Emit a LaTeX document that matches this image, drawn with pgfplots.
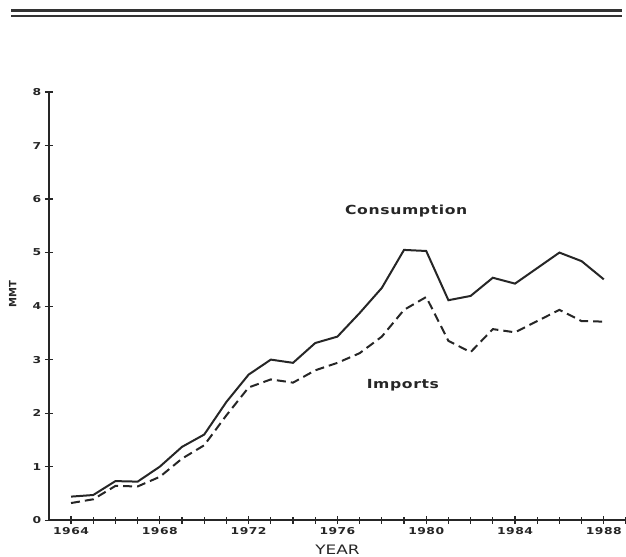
\documentclass[border=0pt]{standalone}
\usepackage{fontspec}
\setmainfont{DejaVu Sans}
\newfontfamily\widefont[FakeStretch=1.3, LetterSpace=5]{DejaVu Sans}
\newfontfamily\labelfont[FakeStretch=1.25, LetterSpace=5]{DejaVu Sans}
\newfontfamily\yearfont[FakeStretch=1.3]{DejaVu Sans}
\usepackage{pgfplots}
\pgfplotsset{compat=1.18}

\pgfplotstableread{
year  cons  imp
1964  0.44  0.32
1965  0.47  0.39
1966  0.73  0.64
1967  0.72  0.63
1968  1.00  0.81
1969  1.37  1.15
1970  1.60  1.40
1971  2.21  1.96
1972  2.72  2.48
1973  3.00  2.63
1974  2.94  2.57
1975  3.31  2.80
1976  3.43  2.94
1977  3.87  3.12
1978  4.34  3.43
1979  5.05  3.93
1980  5.03  4.17
1981  4.11  3.35
1982  4.19  3.14
1983  4.53  3.57
1984  4.42  3.51
1985  4.71  3.72
1986  5.00  3.93
1987  4.84  3.72
1988  4.50  3.71
}\rice

\begin{document}
\begin{tikzpicture}
\begin{axis}[
  scale only axis, width=577pt, height=428pt,
  xmin=1963, xmax=1989, ymin=0, ymax=8,
  axis x line=bottom, axis y line=left,
  axis line style={-, line width=1.8pt, black!85},
  tick align=center, major tick length=8pt, minor tick length=7pt,
  tick style={line width=1.2pt, black!85},
  xtick={1964,1968,...,1988},
  xticklabels={1964,1968,1972,1976,1980,1984,1988},
  minor xtick={1965,1966,1967,1969,1970,1971,1973,1974,1975,1977,1978,1979,1981,1982,1983,1985,1986,1987,1989},
  ytick={0,1,...,8},
  yticklabels={0,1,2,3,4,5,6,7,8},
  ticklabel style={font=\widefont\bfseries\fontsize{9.5}{11}\selectfont, black!85},
  xlabel={YEAR}, ylabel={MMT},
  xlabel style={at={(axis description cs:0.5,-0.0794)}, anchor=base, inner sep=0pt,
    font=\yearfont\fontsize{13}{15}\selectfont, black!85},
  ylabel style={at={(axis description cs:-0.0624,0.528)}, anchor=center,
    font=\bfseries\fontsize{10}{11}\selectfont, black!85},
  clip=false,
]
\addplot[black!85, line width=2pt] table[x=year, y=cons] {\rice};
\addplot[black!85, line width=2pt, dash pattern=on 9pt off 5pt] table[x=year, y=imp] {\rice};

\node[font=\labelfont\bfseries\fontsize{12.5}{15}\selectfont, black!85] at (axis cs:1979.1,5.78) {Consumption};
\node[font=\labelfont\bfseries\fontsize{12.5}{15}\selectfont, black!85] at (axis cs:1978.95,2.52) {Imports};

\draw[line width=2.5pt, black!80] (axis cs:1961.3,9.52) -- (axis cs:1988.8,9.52);
\draw[line width=2.5pt, black!80] (axis cs:1961.3,9.42) -- (axis cs:1988.8,9.42);

\coordinate (bl) at (axis cs:1960.8,-0.673);
\coordinate (tr) at (axis cs:1989,9.72);
\end{axis}
\pgfresetboundingbox
\useasboundingbox (bl) rectangle (tr);
\end{tikzpicture}
\end{document}
